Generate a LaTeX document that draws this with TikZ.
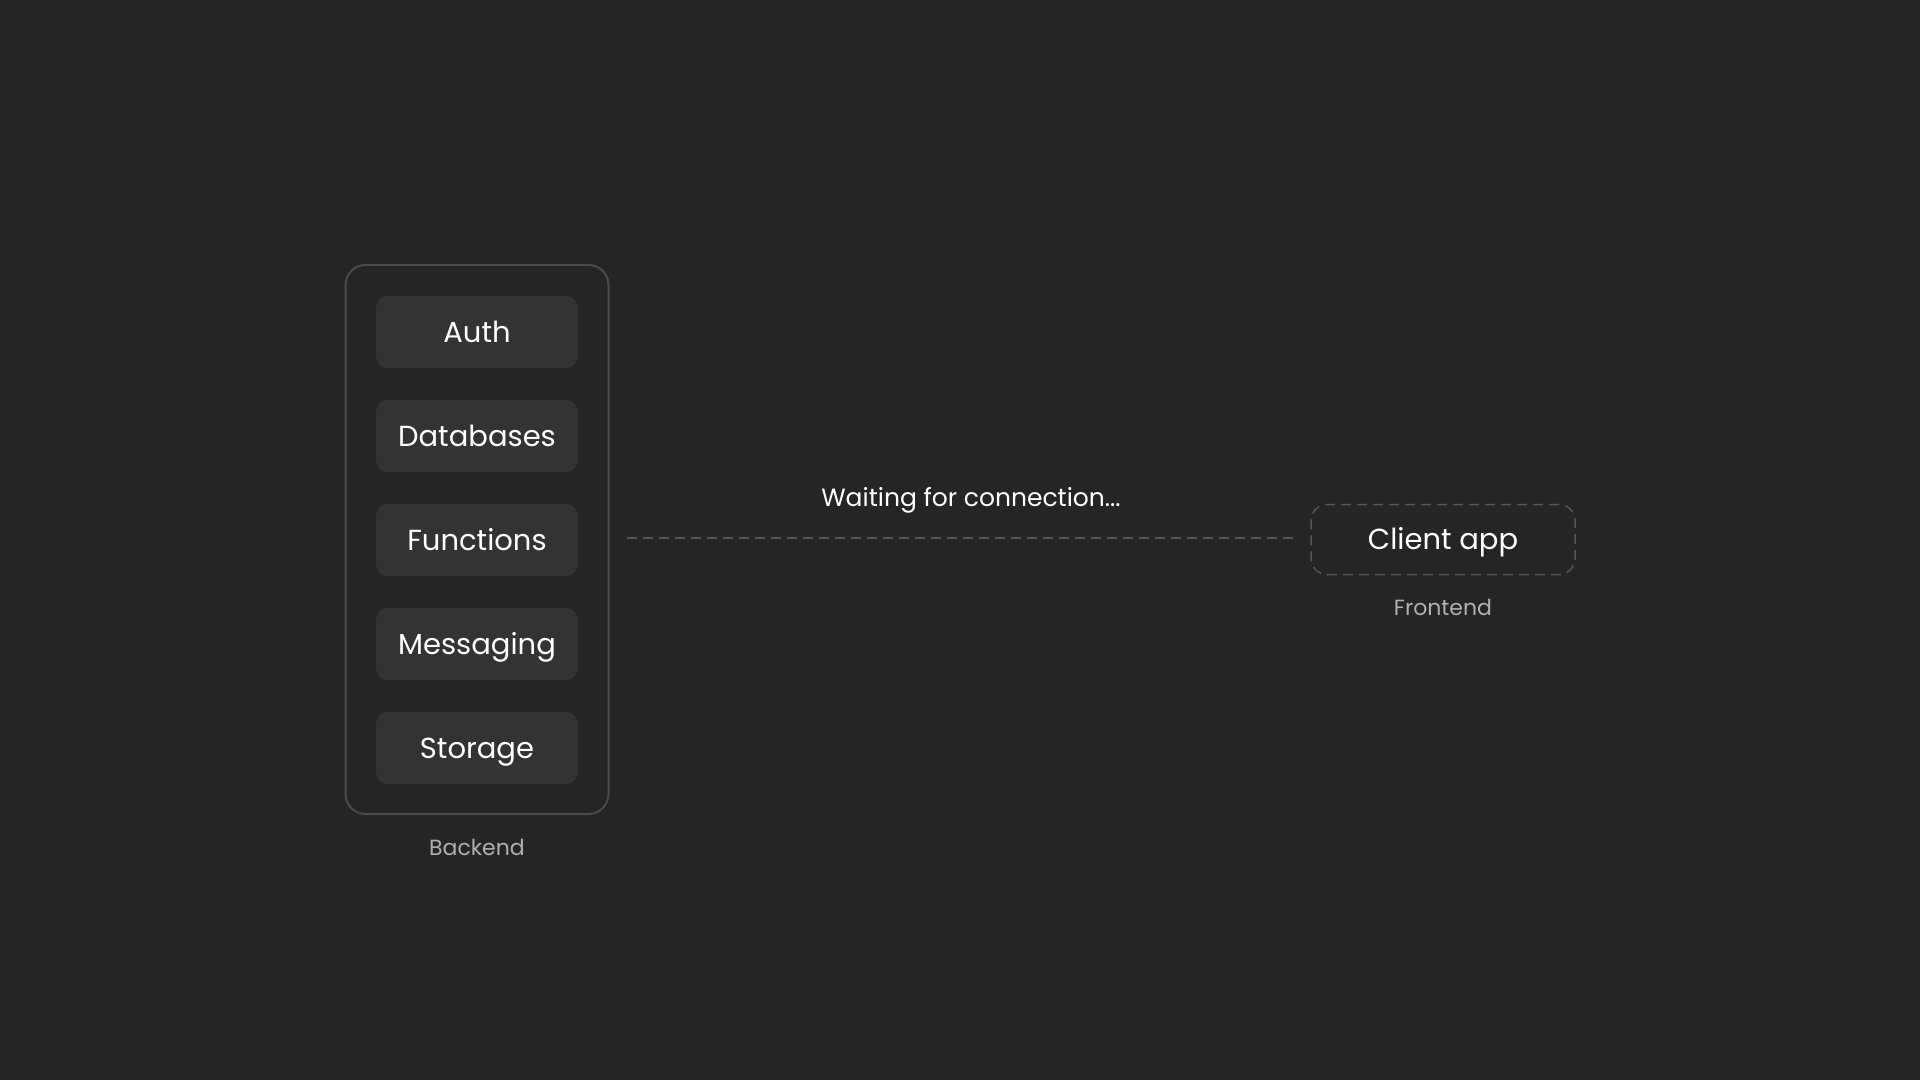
\documentclass[tikz,border=0pt]{standalone}
\usepackage{fontspec}
\setmainfont{Poppins}
\usetikzlibrary{positioning}
\definecolor{bg}{HTML}{252525}
\definecolor{card}{HTML}{333333}
\definecolor{frame}{HTML}{4A4A4A}
\definecolor{dashgray}{HTML}{555555}
\definecolor{caption}{HTML}{B0B0B0}
\tikzset{
  service/.style={fill=card,rounded corners=6pt,minimum width=101pt,minimum height=36pt,
    text=white,font=\fontsize{14.5pt}{17pt}\selectfont,inner sep=0pt,
    text height=10.2pt,text depth=0pt},
  tag/.style={text=caption,font=\fontsize{11pt}{13pt}\selectfont,inner sep=0pt,
    text height=7.8pt,text depth=0pt},
  wire/.style={draw=dashgray,line width=.75pt,dash pattern=on 5pt off 3pt}
}
\begin{document}
\begin{tikzpicture}[x=.5pt,y=-.5pt,line cap=butt]
  \fill[bg] (0,0) rectangle (1920,1080);
  \useasboundingbox (0,0) rectangle (1920,1080);
  % backend column
  \node[draw=frame,line width=1pt,rounded corners=10pt,minimum width=131.5pt,minimum height=274.5pt]
    (backend) at (477,539.5) {};
  \node[service] (auth) at (477,332) {Auth};
  \node[service] (db) at (477,436) {Databases};
  \node[service] (fn) at (477,540) {Functions};
  \node[service] (msg) at (477,644) {Messaging};
  \node[service] (store) at (477,748) {Storage};
  \node[tag] (backlbl) at (477,848) {Backend};
  % frontend
  \node[wire,rounded corners=8pt,minimum width=132pt,minimum height=35pt,text=white,
    font=\fontsize{14.5pt}{17pt}\selectfont,inner sep=0pt,text height=10.2pt,text depth=0pt]
    (client) at (1443,539.5) {Client app};
  \node[tag] (frontlbl) at (1443,608) {Frontend};
  % link
  \coordinate (a) at (627,538);
  \coordinate (b) at (1293,538);
  \draw[wire] (a) -- (b);
  \node[text=white,font=\fontsize{12.5pt}{15pt}\selectfont,inner sep=0pt,
    text height=8.8pt,text depth=0pt] (wait) at (971,498) {Waiting for connection...};
\end{tikzpicture}
\end{document}
